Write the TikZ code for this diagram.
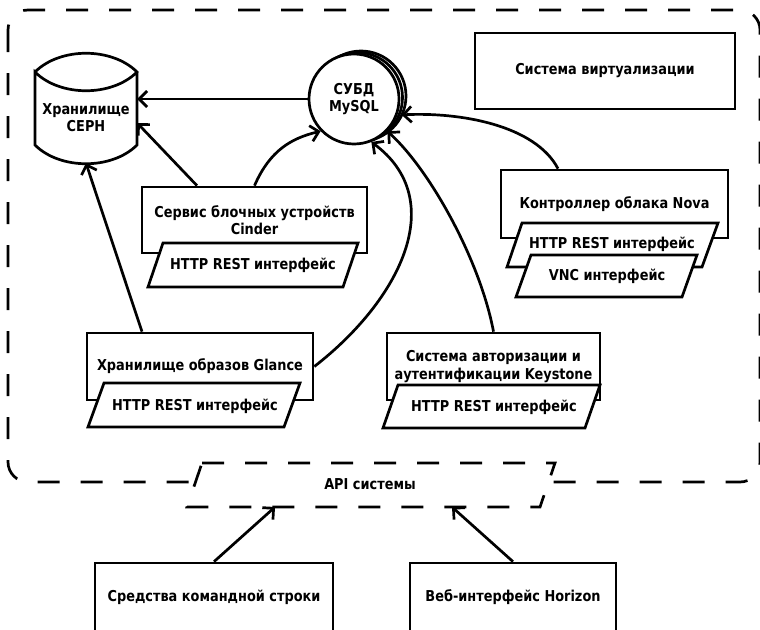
\documentclass[tikz,border=0pt]{standalone}
\usepackage{fontspec}
\setmainfont{DejaVu Sans}[FakeStretch=0.86]
\usetikzlibrary{arrows.meta}
\begin{document}
\begin{tikzpicture}[x=1pt,y=-1pt,
  every node/.style={font=\bfseries\fontsize{15}{17.5}\selectfont, align=center, inner sep=0pt},
  lw/.style={line width=2.7pt},
  box/.style={draw, line width=2.7pt, fill=white, rectangle},
  par/.style={draw, line width=2.7pt, fill=white},
  arr/.style={line width=2.7pt, -{Straight Barb[length=8pt,width=16pt]}},
  dsh/.style={line width=2.7pt, dash pattern=on 22pt off 21pt},
]
\useasboundingbox (0,0) rectangle (760,629);

% system container
\draw[dsh, rounded corners=20pt] (8,10) rectangle (760,482);

% CEPH storage
\draw[lw] (35,72) .. controls (60,47) and (112,47) .. (137,72)
  .. controls (112,97) and (60,97) .. (35,72) -- (35,145)
  .. controls (60,170) and (112,170) .. (137,145) -- (137,72);
\node[minimum width=102pt, minimum height=110pt] (ceph) at (86,108) {};
\node (cephtxt) at (86,117.5) {Хранилище\\CEPH};

% MySQL
\draw[lw, fill=white] (361,96) circle (45pt);
\draw[lw, fill=white] (357.5,97.5) circle (45pt);
\node[box, circle, minimum size=90pt] (db) at (354,99) {СУБД\\MySQL};

% virtualization
\node[box, minimum width=260pt, minimum height=76pt] (virt) at (605,71) {Система виртуализации};

% Cinder
\node[box, minimum width=225pt, minimum height=66pt] (cinder) at (254.5,220) {Сервис блочных устройств\\Cinder};
\draw[par] (163,243) -- (358,243) -- (343,287) -- (148,287) -- cycle;
\node (cinderapi) at (253,265) {HTTP REST интерфейс};

% Nova
\node[box, minimum width=227pt, minimum height=68pt] (nova) at (614.5,204) {Контроллер облака Nova};
\draw[par] (522,223) -- (718,223) -- (702,267) -- (507,267) -- cycle;
\node (novaapi) at (612,244) {HTTP REST интерфейс};
\draw[par] (531,255) -- (697,255) -- (682,297) -- (516,297) -- cycle;
\node (novavnc) at (607,276) {VNC интерфейс};

% Glance
\node[box, minimum width=226pt, minimum height=67pt] (glance) at (200,366.5) {Хранилище образов Glance};
\draw[par] (104,383) -- (300,383) -- (284,427) -- (88,427) -- cycle;
\node (glanceapi) at (195,406) {HTTP REST интерфейс};

% Keystone
\node[box, minimum width=213pt, minimum height=67pt] (keystone) at (493.5,366.5) {Система авторизации и\\аутентификации Keystone};
\draw[par] (398,385) -- (600,385) -- (585,428) -- (383,428) -- cycle;
\node (keystoneapi) at (494,407) {HTTP REST интерфейс};

% API
\draw[dsh, fill=white] (202,463) -- (555,463) -- (540,507) -- (187,507) -- cycle;
\node (api) at (370,484) {API системы};
\coordinate (apiL) at (275,507);
\coordinate (apiR) at (452,507);

% clients
\node[box, minimum width=238pt, minimum height=68pt] (cli) at (214,597) {Средства командной строки};
\node[box, minimum width=206pt, minimum height=68pt] (web) at (513,597) {Веб-интерфейс Horizon};

% connectors
\draw[arr] (db.west) -- ([yshift=9pt]ceph.east);
\draw[arr] ([xshift=-57.5pt]cinder.north) -- ([yshift=-15pt]ceph.east);
\draw[arr] ([xshift=-58pt]glance.north) -- (ceph.south);
\draw[arr] (cinder.north) .. controls (270,150) and (292,138) .. (db.-136);
\draw[arr] (glance.east) .. controls (400,300) and (450,200) .. (db.-68);
\draw[arr] (keystone.north) .. controls (480,260) and (430,170) .. (db.-44);
\draw[arr] ([xshift=-56.5pt]nova.north) .. controls (535,125) and (460,112) .. ([xshift=4pt]db.-20);
\draw[arr] (cli.north) -- (apiL);
\draw[arr] (web.north) -- (apiR);
\end{tikzpicture}
\end{document}
